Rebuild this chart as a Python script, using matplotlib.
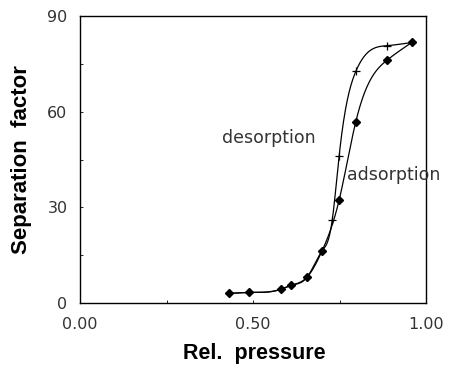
import numpy as np
import matplotlib
matplotlib.use("Agg")
import matplotlib.pyplot as plt

# data
ads_x = [0.431, 0.489, 0.580, 0.609, 0.657, 0.699, 0.749, 0.797, 0.888, 0.959]
ads_y = [3.0, 3.3, 4.3, 5.5, 8.2, 16.2, 32.3, 56.8, 76.2, 81.7]
des_x = [0.431, 0.489, 0.580, 0.609, 0.657, 0.699, 0.729, 0.749, 0.797, 0.888, 0.959]
des_y = [3.0, 3.3, 4.3, 5.5, 8.2, 16.2, 26.0, 46.2, 72.6, 80.7, 81.7]
x_ticks = [0.0, 0.5, 1.0]
x_tick_labels = ["0.00", "0.50", "1.00"]
y_ticks = [0, 30, 60, 90]
y_tick_labels = ["0", "30", "60", "90"]


def natural_spline(x, y, n=400):
    x = np.asarray(x, float); y = np.asarray(y, float)
    m = len(x); h = np.diff(x)
    A = np.zeros((m, m)); b = np.zeros(m)
    A[0, 0] = A[-1, -1] = 1
    for i in range(1, m - 1):
        A[i, i - 1] = h[i - 1]; A[i, i] = 2 * (h[i - 1] + h[i]); A[i, i + 1] = h[i]
        b[i] = 3 * ((y[i + 1] - y[i]) / h[i] - (y[i] - y[i - 1]) / h[i - 1])
    c = np.linalg.solve(A, b)
    xs = np.linspace(x[0], x[-1], n); ys = np.empty_like(xs)
    for k, t in enumerate(xs):
        i = min(max(np.searchsorted(x, t) - 1, 0), m - 2)
        bi = (y[i + 1] - y[i]) / h[i] - h[i] * (2 * c[i] + c[i + 1]) / 3
        di = (c[i + 1] - c[i]) / (3 * h[i])
        dx = t - x[i]
        ys[k] = y[i] + bi * dx + c[i] * dx ** 2 + di * dx ** 3
    return xs, ys


fig = plt.figure(figsize=(4.59, 3.76), dpi=100)
ax = fig.add_axes([80 / 459, 1 - 303 / 376, 346 / 459, 287 / 376])

sx, sy = natural_spline(des_x, des_y)
ax.plot(sx, sy, color="black", lw=0.9)
ax.plot(des_x, des_y, ls="none", marker="+", ms=6, mew=0.9, color="black")
sx, sy = natural_spline(ads_x, ads_y)
ax.plot(sx, sy, color="black", lw=0.9)
ax.plot(ads_x, ads_y, ls="none", marker="D", ms=4.5, color="black")

ax.set_xlim(0, 1)
ax.set_ylim(0, 90)
ax.set_xticks(x_ticks)
ax.set_xticklabels(x_tick_labels)
ax.set_yticks(y_ticks)
ax.set_yticklabels(y_tick_labels)
ax.set_xticks([0.25, 0.75], minor=True)
ax.set_yticks([15, 45, 75], minor=True)
ax.tick_params(which="both", direction="in", length=2, width=0.6, labelsize=11.5,
               labelcolor="#333333")
ax.tick_params(axis="x", pad=10)
ax.tick_params(axis="y", pad=9)
for s in ax.spines.values():
    s.set_linewidth(1.0)

ax.text(0.41, 51.7, "desorption", fontsize=12.5, color="#333333", ha="left", va="center")
ax.text(0.772, 40, "adsorption", fontsize=12.5, color="#333333", ha="left", va="center")

fig.text(254 / 459, 1 - 353 / 376, "Rel.  pressure", fontsize=15.5, fontweight="bold",
         family="Liberation Sans", ha="center", va="center")
fig.text(22 / 459, 1 - 160 / 376, "Separation  factor", fontsize=16, fontweight="bold",
         family="Liberation Sans", ha="center", va="center", rotation=90)

fig.savefig("out.png", dpi=100)
